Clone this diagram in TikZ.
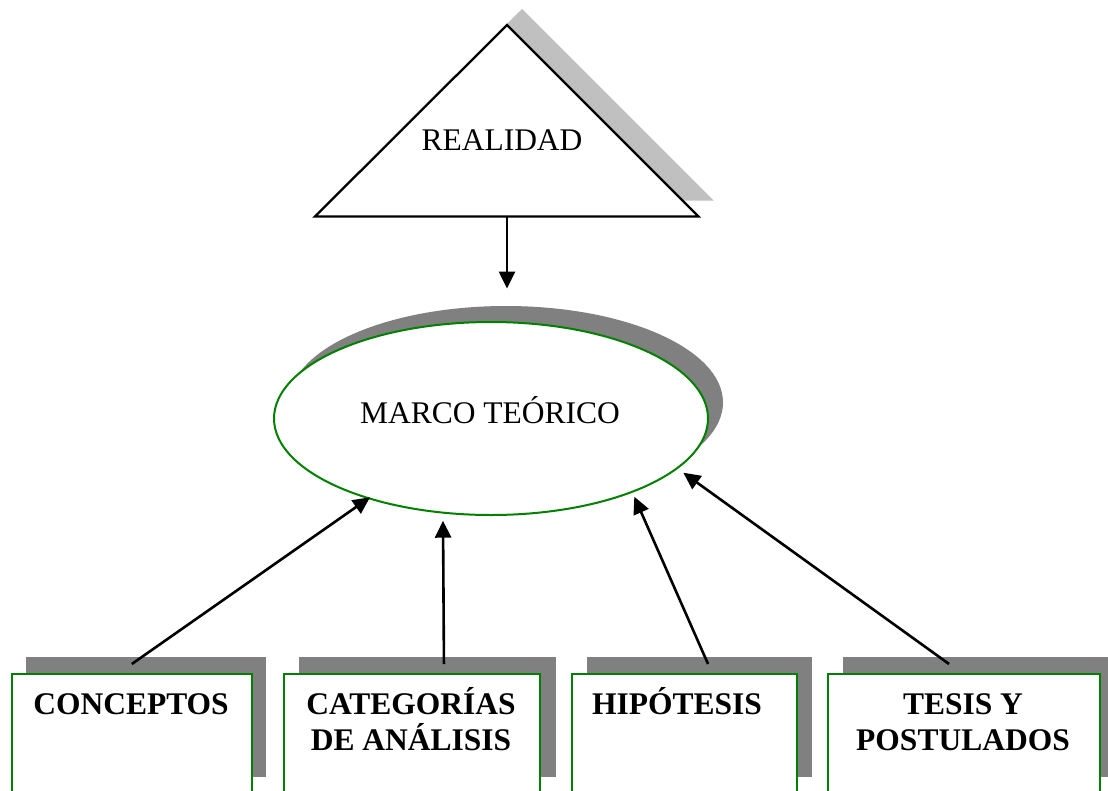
\documentclass[tikz,border=0pt]{standalone}
\usepackage{fontspec}
\setmainfont{Liberation Serif}
\usetikzlibrary{shapes.geometric,arrows.meta}
\definecolor{shadowdark}{HTML}{808080}
\definecolor{shadowlight}{HTML}{C0C0C0}
\definecolor{boxgreen}{HTML}{008000}
\begin{document}
\begin{tikzpicture}[x=1pt,y=-1pt,
  bigtext/.style={font=\fontsize{31.5}{36}\selectfont, inner sep=0pt},
  boxtext/.style={font=\fontsize{31.5}{36}\selectfont\bfseries, inner sep=0pt, align=center},
  boxshadow/.style={fill=shadowdark, inner sep=0pt, minimum height=120pt, anchor=north west},
  panel/.style={draw=boxgreen, line width=2.2pt, fill=white, inner sep=0pt, minimum height=120pt, anchor=north west},
  ovalshadow/.style={ellipse, fill=shadowdark, minimum width=434pt, minimum height=193pt, inner sep=0pt},
  oval/.style={ellipse, draw=boxgreen, line width=2pt, fill=white, minimum width=434pt, minimum height=193pt, inner sep=0pt},
  arr/.style={line width=2.6pt, -{Triangle[length=17pt,width=16pt]}},
]
\clip (0,0) rectangle (1108,790);
\fill[white] (0,0) rectangle (1108,790);

% triangle REALIDAD
\coordinate (apex) at (507,25);
\coordinate (bl) at (315,216.5);
\coordinate (br) at (698.5,216.5);
\fill[shadowlight] ([shift={(15,-16)}]apex) -- ([shift={(15,-16)}]bl) -- ([shift={(15,-16)}]br) -- cycle;
\draw[line width=2.3pt, fill=white, line join=miter] (apex) -- (bl) -- (br) -- cycle;
\node[bigtext, anchor=base] (real) at (502,150.5) {REALIDAD};
\coordinate (tribase) at (507,216.5);
\coordinate (arrtip) at (507,288.5);
\draw[arr] (tribase) -- (arrtip);

% ellipse MARCO TEORICO
\node[ovalshadow] (mtsh) at (506,402.5) {};
\node[oval] (mt) at (491,418.5) {};
\node[bigtext, anchor=base] (mtl) at (490,423.5) {MARCO TEÓRICO};

% boxes
\node[boxshadow, minimum width=240pt] (b1s) at (26,656.7) {};
\node[panel, minimum width=240pt] (b1) at (10.7,672.7) {};
\node[boxshadow, minimum width=256.3pt] (b2s) at (299,656.7) {};
\node[panel, minimum width=256.3pt] (b2) at (282.7,672.7) {};
\node[boxshadow, minimum width=225.3pt] (b3s) at (586.7,656.7) {};
\node[panel, minimum width=225.3pt] (b3) at (570.7,672.7) {};
\node[boxshadow, minimum width=272.3pt] (b4s) at (843,656.7) {};
\node[panel, minimum width=272.3pt] (b4) at (826.7,672.7) {};

\node[boxtext, anchor=base] (l1) at (131,714) {CONCEPTOS};
\node[boxtext, anchor=base] (l2) at (411,750) {CATEGORÍAS\\DE ANÁLISIS};
\node[boxtext, anchor=base] (l3) at (677,714) {HIPÓTESIS};
\node[boxtext, anchor=base] (l4) at (963,750) {TESIS Y\\POSTULADOS};

% connectors
\coordinate (t1) at (370,497.3);
\coordinate (t2) at (443,520.7);
\coordinate (t3) at (634.3,496.7);
\coordinate (t4) at (683.3,472.7);
\draw[arr] ([yshift=8.7pt]b1.north) -- (t1);
\draw[arr] ([xshift=32pt,yshift=8.7pt]b2.north) -- (t2);
\draw[arr] ([xshift=23.6pt,yshift=8.7pt]b3.north) -- (t3);
\draw[arr] ([xshift=-14.9pt,yshift=8.7pt]b4.north) -- (t4);
\end{tikzpicture}
\end{document}
